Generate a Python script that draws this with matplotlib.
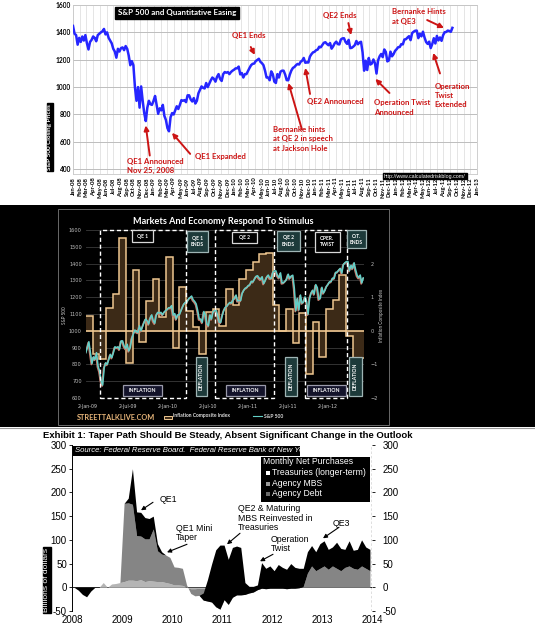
import numpy as np
import pandas as pd
import matplotlib
matplotlib.use('Agg')
import matplotlib.pyplot as plt
from matplotlib.patches import Rectangle
from matplotlib.lines import Line2D
import matplotlib.transforms as mtrans

# ---------------- DATA ----------------
# S&P 500, approx weekly values (every 7 days from 2008-01-01)
sp500_2008 = [1447, 1390, 1380, 1310, 1360, 1330, 1370, 1340, 1380, 1320, 1275, 1330, 1345,
              1370, 1360, 1335, 1380, 1390, 1400, 1408, 1425, 1385, 1400, 1360, 1340, 1320,
              1280, 1260, 1215, 1280, 1260, 1285, 1290, 1270, 1300, 1280, 1230, 1160, 1190,
              1160, 1000, 900, 1000, 850, 1005, 900, 810, 752, 850, 900, 875, 870, 900]
sp500_2009 = [935, 870, 805, 845, 830, 870, 790, 760, 700, 677, 780, 810, 800,
              830, 860, 840, 870, 905, 900, 905, 890, 940, 940, 910, 895, 920,
              880, 900, 955, 980, 1005, 995, 990, 1030, 1000, 1025, 1050, 1070, 1060,
              1040, 1075, 1095, 1060, 1045, 1095, 1110, 1105, 1110, 1095, 1110, 1120, 1127]
sp500_2010 = [1137, 1137, 1150, 1093, 1103, 1070, 1095, 1095, 1118, 1140, 1160, 1170, 1172,
              1190, 1198, 1207, 1185, 1175, 1160, 1120, 1070, 1070, 1050, 1115, 1095, 1040,
              1030, 1095, 1070, 1113, 1120, 1120, 1092, 1051, 1050, 1091, 1121, 1140, 1147,
              1160, 1169, 1165, 1185, 1193, 1213, 1178, 1180, 1180, 1223, 1241, 1254, 1258]
sp500_2011 = [1270, 1274, 1295, 1291, 1307, 1324, 1328, 1315, 1306, 1322, 1281, 1298, 1320,
              1332, 1314, 1312, 1348, 1356, 1357, 1330, 1316, 1345, 1285, 1287, 1296, 1307,
              1337, 1313, 1326, 1331, 1254, 1120, 1193, 1125, 1213, 1165, 1172, 1202, 1175,
              1099, 1195, 1225, 1242, 1219, 1275, 1257, 1188, 1195, 1259, 1225, 1241, 1265]
sp500_2012 = [1277, 1292, 1293, 1314, 1312, 1348, 1350, 1362, 1372, 1343, 1395, 1405, 1412,
              1413, 1358, 1390, 1371, 1405, 1363, 1330, 1316, 1332, 1285, 1315, 1357, 1319,
              1374, 1341, 1363, 1338, 1379, 1401, 1403, 1413, 1410, 1404, 1433]

# Inflation composite index, monthly (panel 2), starting Jan 2009
inflation_index = [0.45, -0.7, -0.85, 0.68, 1.1, 2.75, -0.95, 1.8, -0.33, 0.9, 1.55, 0.4,
                   2.2, -0.5, 1.3, 0.58, 0.1, -0.7, 0.55, 0.65, 0.15, 1.23, 0.78, 1.53,
                   1.8, 2.05, 2.28, 2.33, 0.78, 0.0, 0.65, -0.35, 0.53, -1.3, 0.25, -0.78,
                   0.65, 0.93, 1.65, -0.15, -0.8, -0.8]

# Fed monthly net purchases (panel 3), Jan 2008 - Dec 2013, billions
agency_debt = [0, 0, 0, 0, 0, 0, 0, 10, 0, 7, 8, 10,
               12, 15, 15, 14, 16, 12, 14, 13, 12, 12, 10, 8,
               5, 5, 4, 0, -3, -3, -2, -2, -1, -1, -1, -1,
               -1, -1, -1, -1, -1, 0, 0, 0, 0, 0, 0, 0,
               0, 0, 0, 0, 0, 0, 0, 0, 0, 0, 0, 0,
               0, 0, 0, 0, 0, 0, 0, 0, 0, 0, 0, 0]
agency_mbs = [0, 0, 0, 0, 0, 0, 0, 0, 0, 0, 0, 0,
              165, 163, 160, 95, 92, 90, 88, 110, 65, 58, 58, 55,
              38, 37, 36, 5, -10, -15, -15, -25, -28, -30, -40, -45,
              -25, -35, -20, -15, -15, -15, -12, -10, -5, -2, -3, -2,
              -2, -2, -2, -3, -2, -2, -1, 2, 30, 45, 35, 40,
              45, 38, 45, 40, 35, 42, 45, 40, 38, 45, 40, 35]
treasuries = [0, -6, -15, -20, -8, 0, 0, 0, 0, 0, 0, 0,
              0, 10, 75, 50, 50, 45, 43, 27, 15, 5, 0, 0,
              0, 0, 0, 0, 0, 0, 0, 15, 45, 80, 120, 135,
              115, 95, 105, 103, 100, 25, 14, 12, 10, 54, 43, 47,
              37, 50, 44, 41, 52, 44, 41, 38, 45, 43, 40, 52,
              53, 42, 40, 55, 47, 38, 53, 38, 42, 55, 45, 45]

# ---------------- FIGURE ----------------
W, H = 535, 625
fig = plt.figure(figsize=(W / 100, H / 100), dpi=100)
fig.patch.set_facecolor('white')


def px_axes(l, t, r, b, **kw):
    return fig.add_axes([l / W, 1 - b / H, (r - l) / W, (b - t) / H], **kw)


def fx(x):
    return x / W


def fy(y):
    return 1 - y / H


CAL = ['Lato', 'DejaVu Sans']
ARIAL = ['Liberation Sans', 'DejaVu Sans']
RED = '#cc1414'

# ================= PANEL 1 =================
sp_all = sp500_2008 + sp500_2009 + sp500_2010 + sp500_2011 + sp500_2012
dates = pd.date_range('2008-01-01', periods=len(sp_all), freq='7D')
m08 = (dates - pd.Timestamp('2008-01-01')).days / 30.4375

ax1 = px_axes(73, 5, 477, 174)
ax1.plot(m08, sp_all, color='#2626ff', lw=1.8, zorder=3)
ax1.set_xlim(0, 60)
ax1.set_ylim(365, 1600)
month_labels = [(pd.Timestamp('2008-01-01') + pd.DateOffset(months=i)).strftime('%b-%y') for i in range(61)]
ax1.set_xticks(np.arange(61))
ax1.set_xticklabels(month_labels, rotation=90, fontsize=4.2, fontweight='bold', family=CAL)
ax1.set_yticks(np.arange(400, 1601, 200))
ax1.set_yticklabels([str(v) for v in range(400, 1601, 200)], fontsize=4.8, fontweight='bold', family=CAL)
ax1.tick_params(axis='y', length=0, pad=1.5)
ax1.tick_params(axis='x', length=0, pad=2.5)
ax1.grid(axis='x', color='#e0e0e0', lw=0.6)
ax1.grid(axis='y', color='#bdbdbd', lw=0.7)
ax1.set_axisbelow(True)
for s in ax1.spines.values():
    s.set_color('#c8c8c8')
    s.set_linewidth(0.6)

fig.text(fx(177), fy(13), 'S&P 500 and Quantitative Easing', color='white', fontsize=5.8,
         family=CAL, fontweight='bold', ha='center', va='center',
         bbox=dict(boxstyle='square,pad=0.35', fc='black', ec='black'))
fig.text(fx(50), fy(137), 'S&P 500 Closing Prices', color='white', fontsize=4.6,
         family=CAL, fontweight='bold', ha='center', va='center', rotation=90,
         bbox=dict(boxstyle='square,pad=0.15', fc='black', ec='black'))
fig.text(fx(425), fy(176), 'http://www.calculatedriskblog.com/', color='white', fontsize=3.8,
         family=ARIAL, ha='center', va='center',
         bbox=dict(boxstyle='square,pad=0.15', fc='black', ec='black'))

ann = [
    ('QE1 Announced\nNov 25, 2008', (8.0, 425), (11.4, 500), (10.8, 720)),
    ('QE1 Expanded', (18.1, 490), (17.4, 512), (14.7, 666)),
    ('QE1 Ends', (23.6, 1374), (26.4, 1293), (27.0, 1235)),
    ('Bernanke hints\nat QE 2 in speech\nat Jackson Hole', (29.7, 622), (34.0, 690), (32.0, 1030)),
    ('QE2 Announced', (34.8, 892), (35.2, 950), (34.5, 1140)),
    ('QE2 Ends', (37.1, 1520), (40.9, 1468), (41.3, 1380)),
    ('Operation Twist\nAnnounced', (44.7, 852), (47.0, 957), (44.9, 1060)),
    ('Bernanke Hints\nat QE3', (47.4, 1515), (52.6, 1490), (55.1, 1432)),
    ('Operation\nTwist\nExtended', (53.7, 938), (54.5, 1100), (53.5, 1250)),
]
for txt, tpos, tail, tip in ann:
    ax1.text(tpos[0], tpos[1], txt, color=RED, fontsize=5.6, family=CAL, fontweight='bold',
             ha='left', va='center', linespacing=1.4, zorder=5)
    ax1.annotate('', xy=tip, xytext=tail,
                 arrowprops=dict(arrowstyle='-|>', color=RED, lw=1.4, mutation_scale=7,
                                 shrinkA=0, shrinkB=0), zorder=5)

# ================= PANEL 2 =================
fig.patches.append(Rectangle((0, fy(427)), 1, (427 - 205) / H, transform=fig.transFigure,
                             fc='black', ec='none', zorder=-10))
fig.patches.append(Rectangle((fx(58), fy(425)), (389 - 58) / W, (425 - 209) / H,
                             transform=fig.transFigure, fc='none', ec='#6a6a6a', lw=0.7, zorder=-9))
fig.lines.append(Line2D([0, 1], [fy(427.5), fy(427.5)], transform=fig.transFigure,
                        color='#9a9a9a', lw=0.8, zorder=-9))

TAN = '#efc790'
BROWN = '#3c2a17'
CYAN = '#63cfc7'

axb = px_axes(86, 230, 364, 398)
axb.set_facecolor('black')
edges = np.arange(len(inflation_index) + 1) - 0.3
axb.stairs(inflation_index, edges, baseline=0, fill=True, color=BROWN, zorder=2)
axb.stairs(inflation_index, edges, baseline=None, fill=False, color=TAN, lw=1.1, zorder=3)
axb.axhline(0, color=TAN, lw=1.2, zorder=3)
axb.set_ylim(-2, 3)
axb.set_xlim(-0.3, 41.4)
axb.set_yticks([-2, -1, 0, 1, 2])
axb.set_yticks(np.arange(-2, 3.01, 0.5), minor=True)
axb.grid(axis='y', which='both', color='#3b3b3b', lw=0.6, zorder=0)
axb.set_axisbelow(True)
axb.set_xticks(np.arange(0, 37, 6))
axb.set_xticklabels(['2-Jan-09', '2-Jul-09', '2-Jan-10', '2-Jul-10', '2-Jan-11', '2-Jul-11', '2-Jan-12'])
axb.tick_params(axis='x', length=0, labelsize=3.4, labelcolor='#cfcfcf', pad=4)
for s in axb.spines.values():
    s.set_visible(False)

axs = axb.twinx()
axb.yaxis.tick_right()
axs.yaxis.tick_left()
axb.tick_params(axis='y', which='both', length=0, labelsize=3.6, labelcolor='#bdbdbd', pad=5)
sel = (dates >= pd.Timestamp('2008-12-20')) & (dates <= pd.Timestamp('2012-06-16'))
m09 = (dates[sel] - pd.Timestamp('2009-01-02')).days / 30.4375
sp_sel = np.array(sp_all)[sel]
shadow = mtrans.offset_copy(axs.transData, fig=fig, x=-0.6, y=-0.9, units='dots')
axs.plot(m09, sp_sel, color='#c77b6c', lw=1.3, transform=shadow, zorder=4)
axs.plot(m09, sp_sel, color=CYAN, lw=1.1, zorder=5)
axs.set_ylim(600, 1600)
axs.set_xlim(-0.3, 41.4)
axs.set_yticks(np.arange(600, 1601, 100))
axs.tick_params(axis='y', length=0, labelsize=3.6, labelcolor='#bdbdbd', pad=3)
for s in axs.spines.values():
    s.set_visible(False)

fig.text(fx(65), fy(315), 'S&P 500', color='#cfcfcf', fontsize=3.3, rotation=90, ha='center', va='center', family=CAL)
fig.text(fx(381), fy(315), 'Inflation Composite Index', color='#cfcfcf', fontsize=3.3, rotation=90,
         ha='center', va='center', family=CAL)
fig.text(fx(223), fy(221), 'Markets And Economy Respond To Stimulus', color='white', fontsize=6.6,
         fontweight='bold', ha='center', va='center', family=CAL)

# dashed period boxes (x in months since Jan 2009, y in S&P units)
for x0, x1 in [(1.8, 14.7), (19.0, 27.9), (32.5, 38.8)]:
    axs.add_patch(Rectangle((x0, 600), x1 - x0, 1000, fill=False, ec='white', ls=(0, (3, 2)),
                            lw=1.0, zorder=6, clip_on=False))

TEAL = '#1d3a3a'


def label_box(x0, x1, y0, y1, text, fc, ec, rot=0, fs=3.6):
    axs.add_patch(Rectangle((x0, y0), x1 - x0, y1 - y0, fc=fc, ec=ec, lw=0.9, zorder=7, clip_on=False))
    axs.text((x0 + x1) / 2, (y0 + y1) / 2, text, color='white', fontsize=fs, ha='center', va='center',
             rotation=rot, fontweight='bold', family=CAL, zorder=8, linespacing=1.3)


label_box(6.6, 9.7, 1530, 1598, 'QE 1', 'black', '#d8d8d8')
label_box(14.8, 18.0, 1470, 1595, 'QE 1\nENDS', TEAL, '#9fb5b5')
label_box(21.6, 25.3, 1525, 1590, 'QE 2', 'black', '#d8d8d8')
label_box(28.3, 31.8, 1475, 1595, 'QE 2\nENDS', TEAL, '#9fb5b5')
label_box(34.0, 37.8, 1470, 1590, 'OPER.\nTWIST', 'black', '#d8d8d8')
label_box(38.8, 41.7, 1490, 1600, 'O.T.\nENDS', TEAL, '#9fb5b5')
for x0, x1 in [(5.2, 11.1), (20.7, 26.5), (32.8, 38.7)]:
    label_box(x0, x1, 612, 680, 'INFLATION', '#13132a', '#9a9aaa', fs=3.8)
for x0, x1 in [(16.2, 17.8), (29.5, 31.3), (39.1, 41.1)]:
    label_box(x0, x1, 610, 845, 'DEFLATION', TEAL, '#9fb5b5', rot=90, fs=3.6)

# panel 2 legend
fig.text(fx(77), fy(417), 'STREETTALKLIVE.COM', color='#e8b67a', fontsize=5.2, fontweight='bold',
         ha='left', va='center', family=CAL)
fig.patches.append(Rectangle((fx(164), fy(418.5)), 8 / W, 3 / H, transform=fig.transFigure,
                             fc=BROWN, ec=TAN, lw=0.7))
fig.text(fx(173), fy(416), 'Inflation Composite Index', color='#dddddd', fontsize=3.6, ha='left',
         va='center', family=CAL, fontweight='bold')
fig.lines.append(Line2D([fx(253), fx(262)], [fy(416), fy(416)], transform=fig.transFigure, color=CYAN, lw=0.8))
fig.text(fx(264), fy(416), 'S&P 500', color='#dddddd', fontsize=3.6, ha='left', va='center',
         family=CAL, fontweight='bold')

# ================= PANEL 3 =================
fig.text(fx(43), fy(435), 'Exhibit 1: Taper Path Should Be Steady, Absent Significant Change in the Outlook',
         fontsize=6.8, fontweight='bold', family=ARIAL, ha='left', va='center')

ax3 = px_axes(72, 445, 372, 611)
n = len(treasuries)
x3 = 2008 + (np.arange(n) + 0.5) / 12
debt = np.array(agency_debt, float)
mbs = np.array(agency_mbs, float)
tr = np.array(treasuries, float)
c1 = debt
c2 = c1 + mbs
c3 = c2 + tr
ax3.fill_between(x3, 0, c1, color='#b5b5b5', lw=0, zorder=2)
ax3.fill_between(x3, c1, c2, color='#858585', lw=0, zorder=3)
ax3.fill_between(x3, c2, c3, color='black', lw=0, zorder=4)
ax3.axhline(0, color='black', lw=0.6, zorder=1)
ax3.set_xlim(2008, 2014)
ax3.set_ylim(-50, 300)
ax3.set_yticks(np.arange(-50, 301, 50))
ax3.set_yticklabels([str(v) for v in range(-50, 301, 50)], fontsize=7, family=ARIAL)
ax3.set_xticks(np.arange(2008, 2015))
ax3.set_xticklabels([str(v) for v in range(2008, 2015)], fontsize=7, family=ARIAL)
ax3.tick_params(axis='x', length=0, pad=3)
ax3.tick_params(axis='y', length=2.5, width=0.6, pad=1.2, direction='out')
for k in ['top', 'bottom', 'right']:
    ax3.spines[k].set_visible(False)
ax3.spines['left'].set_linewidth(0.7)
ax3.axvline(2014, color='black', lw=0.9, ls=(0, (2, 1.5)), zorder=5)
ax3r = ax3.twinx()
ax3r.set_ylim(-50, 300)
ax3r.set_yticks(np.arange(-50, 301, 50))
ax3r.set_yticklabels([str(v) for v in range(-50, 301, 50)], fontsize=7, family=ARIAL)
ax3r.tick_params(axis='y', length=2.5, width=0.6, pad=5)
for s in ax3r.spines.values():
    s.set_visible(False)

fig.patches.append(Rectangle((fx(73), fy(455.5)), (300 - 73) / W, 10 / H, transform=fig.transFigure,
                             fc='black', ec='none', zorder=5))
fig.text(fx(75), fy(450.5), 'Source: Federal Reserve Board.  Federal Reserve Bank of New York.', color='white',
         fontsize=5.6, style='italic', family=ARIAL, ha='left', va='center', zorder=6)

fig.patches.append(Rectangle((fx(261), fy(502)), (370 - 261) / W, 45 / H, transform=fig.transFigure,
                             fc='black', ec='none', zorder=5))
fig.text(fx(263), fy(461.5), 'Monthly Net Purchases', color='white', fontsize=6.2, family=ARIAL,
         ha='left', va='center', zorder=6)
for yy, col, lab in [(472.5, 'white', 'Treasuries (longer-term)'), (483.5, '#9a9a9a', 'Agency MBS'),
                     (494, '#6a6a6a', 'Agency Debt')]:
    fig.patches.append(Rectangle((fx(266), fy(yy + 2)), 4 / W, 4 / H, transform=fig.transFigure,
                                 fc=col, ec='none', zorder=6))
    fig.text(fx(272), fy(yy), lab, color='white', fontsize=6.2, family=ARIAL, ha='left', va='center', zorder=6)

fig.text(fx(47), fy(580), 'Billions of dollars', color='white', fontsize=6.0, family=ARIAL, rotation=90,
         ha='center', va='center', bbox=dict(boxstyle='square,pad=0.1', fc='black', ec='black'))

ann3 = [
    ('QE1', (160, 499), (153, 502), (141, 510), 'left'),
    ('QE1 Mini\nTaper', (176, 533), (187, 544), (167, 552), 'left'),
    ('QE2 & Maturing\nMBS Reinvested in\nTreasuries', (238, 518), (240, 533), (227, 544), 'left'),
    ('Operation\nTwist', (271, 544), (273, 554), (260, 561), 'left'),
    ('QE3', (333, 523), (339, 527), (323, 538), 'left'),
]


def to3(p):
    x, y = p
    return (2008 + (x - 72) / 50.0, (587 - y) / 0.4743)


for txt, tp, tail, tip, ha in ann3:
    tx, ty = to3(tp)
    ax3.text(tx, ty, txt, fontsize=6.3, family=ARIAL, ha=ha, va='center', linespacing=1.05, zorder=7)
    ax3.annotate('', xy=to3(tip), xytext=to3(tail),
                 arrowprops=dict(arrowstyle='-|>', color='black', lw=0.8, mutation_scale=6,
                                 shrinkA=0, shrinkB=0), zorder=7)

fig.savefig('out.png', dpi=100, facecolor='white')
